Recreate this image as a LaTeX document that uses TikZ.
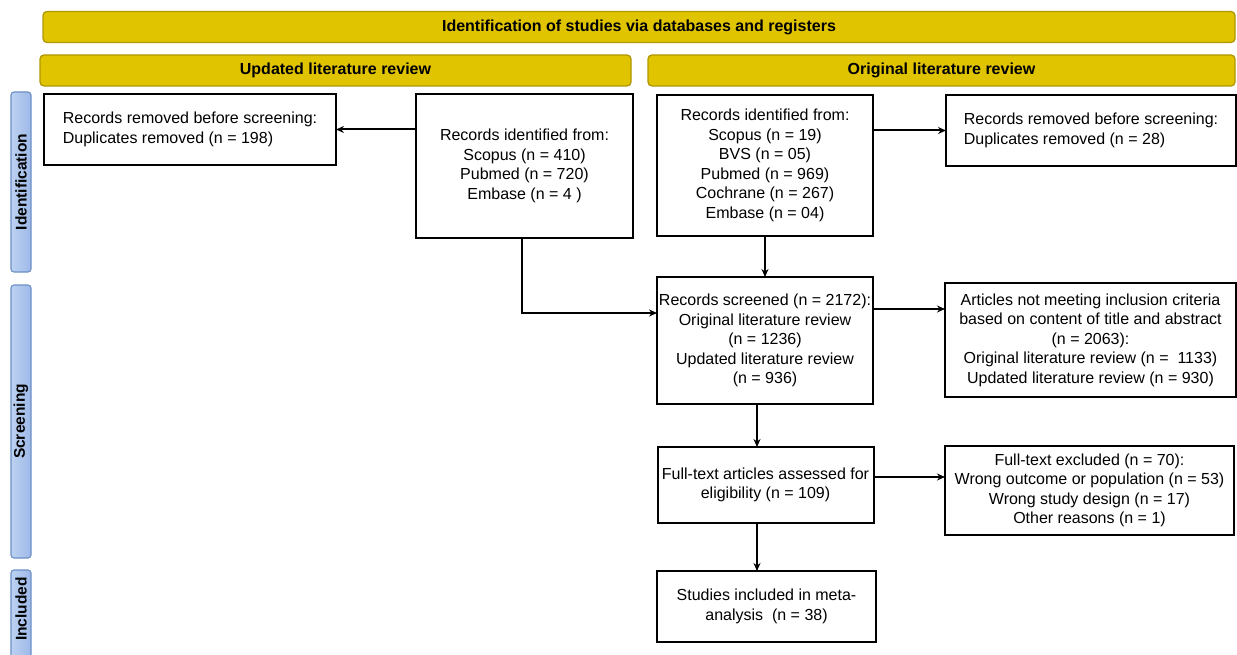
\documentclass[tikz,border=0pt]{standalone}
\usepackage{fontspec}
\setmainfont{Liberation Sans}
\usetikzlibrary{arrows.meta}
\definecolor{hdrfill}{HTML}{E1C400}
\definecolor{hdrline}{HTML}{B09600}
\definecolor{sideA}{HTML}{BDD2F2}
\definecolor{sideB}{HTML}{9DB9E8}
\definecolor{sideline}{HTML}{6D8FC5}
\tikzset{
  hdr/.style={draw=hdrline, line width=1.3pt, fill=hdrfill, rounded corners=4pt,
    minimum height=31pt, inner sep=0pt, outer sep=0pt, font=\fontsize{16}{19}\selectfont\bfseries},
  side/.style={draw=sideline, line width=1.1pt, left color=sideA, right color=sideB,
    rounded corners=3pt, minimum height=20pt, inner sep=0pt, outer sep=0pt, rotate=90,
    font=\fontsize{15.5}{18}\selectfont\bfseries},
  sidetxt/.style={rotate=90, inner sep=0pt, font=\fontsize{15.5}{18}\selectfont\bfseries},
  box/.style={draw=black, line width=2pt, fill=white, inner sep=0pt, outer sep=0pt,
    align=center, font=\fontsize{16}{19.5}\selectfont},
  lbox/.style={box, align=left},
  arr/.style={line width=2pt, -{Stealth[length=8pt,width=7pt]}},
}
\begin{document}
\begin{tikzpicture}[x=1pt,y=-1pt]
\useasboundingbox (0,0) rectangle (1237,655);
% headers
\node[hdr, minimum width=1192pt] (top) at (639,27) {Identification of studies via databases and registers};
\node[hdr, minimum width=591pt] (hu) at (335.5,70.5) {Updated literature review};
\node[hdr, minimum width=587pt] (ho) at (941.5,70.5) {Original literature review};
% side bars
\node[side, minimum width=180pt] (sid) at (21,182) {Identification};
\node[side, minimum width=273pt] (ssc) at (21,421.5) {Screening};
\node[side, minimum width=100pt] (sin) at (21,620) {};
\node[sidetxt] (sintxt) at (21,609) {Included};
% boxes
\node[lbox, minimum width=292pt, minimum height=71pt] (RemU) at (190,129.5)
  {Records removed before screening:\\Duplicates removed (n = 198)};
\node[box, minimum width=217pt, minimum height=144pt] (IdU) at (524.5,166)
  {Records identified from:\\Scopus (n = 410)\\Pubmed (n = 720)\\Embase (n = 4 )};
\node[box, minimum width=216pt, minimum height=141pt] (IdO) at (765,165.5)
  {Records identified from:\\Scopus (n = 19)\\BVS (n = 05)\\Pubmed (n = 969)\\Cochrane (n = 267)\\Embase (n = 04)};
\node[lbox, minimum width=290pt, minimum height=71pt] (RemO) at (1091,130.5)
  {Records removed before screening:\\Duplicates removed (n = 28)};
\node[box, minimum width=216pt, minimum height=127pt] (Scr) at (765,340.5)
  {Records screened (n = 2172):\\Original literature review\\(n = 1236)\\Updated literature review\\(n = 936)};
\node[box, minimum width=291pt, minimum height=114pt] (Ex1) at (1090.5,340)
  {Articles not meeting inclusion criteria\\based on content of title and abstract\\(n = 2063):\\Original literature review (n = \ 1133)\\Updated literature review (n = 930)};
\node[box, minimum width=216pt, minimum height=76pt] (FT) at (765.5,485)
  {Full-text articles assessed for\\eligibility (n = 109)};
\node[box, minimum width=289pt, minimum height=89pt] (Ex2) at (1089.5,490.5)
  {\raisebox{3pt}{\begin{tabular}{@{}c@{}}Full-text excluded (n = 70):\\Wrong outcome or population (n = 53)\\Wrong study design (n = 17)\\Other reasons (n = 1)\end{tabular}}};
\node[box, minimum width=219pt, minimum height=71pt] (Inc) at (766.5,606.5)
  {Studies included in meta-\\analysis \ (n = 38)};
% connectors
\draw[arr] (IdU.west |- RemU.east) -- (RemU.east);
\draw[arr] (IdO.east |- RemO.west) -- (RemO.west);
\draw[arr] ([xshift=-3pt]IdU.south) |- ([yshift=27.5pt]Scr.west);
\draw[arr] (IdO.south) -- (IdO.south |- Scr.north);
\draw[arr] ([yshift=31.5pt]Scr.east) -- ([yshift=31.5pt]Scr.east -| Ex1.west);
\draw[arr] ([xshift=-8pt]Scr.south) -- ([xshift=-8pt]Scr.south |- FT.north);
\draw[arr] ([yshift=8pt]FT.east) -- ([yshift=8pt]FT.east -| Ex2.west);
\draw[arr] ([xshift=-8.5pt]FT.south) -- ([xshift=-8.5pt]FT.south |- Inc.north);
\end{tikzpicture}
\end{document}
